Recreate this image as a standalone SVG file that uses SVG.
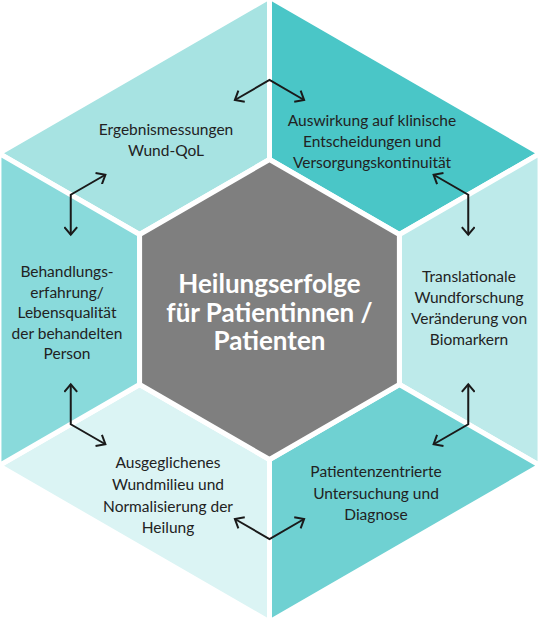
<svg xmlns="http://www.w3.org/2000/svg" width="540" height="618" viewBox="0 0 540 618">
<defs>
<style>
.seg{stroke:#ffffff;stroke-width:5;stroke-linejoin:miter}
.lbl{font-family:Lato,"Liberation Sans",sans-serif;font-size:15.5px;fill:#222222;text-anchor:middle}
.ctr{font-family:Lato,"Liberation Sans",sans-serif;font-size:26px;font-weight:bold;fill:#ffffff;text-anchor:middle}
.arr{fill:none;stroke:#1a1a1a;stroke-width:2;marker-start:url(#ah);marker-end:url(#ah)}
</style>
<marker id="ah" viewBox="0 0 14 14" refX="12" refY="7" markerWidth="14" markerHeight="14" markerUnits="userSpaceOnUse" orient="auto-start-reverse">
<path d="M4.3,0.6 L12,7 L4.3,13.4" fill="none" stroke="#1a1a1a" stroke-width="2"/>
</marker>
</defs>
<rect width="540" height="618" fill="#ffffff"/>
<g id="node-ergebnis">
<polygon class="seg" fill="#a7e3e2" points="-1.05,153.3 269.5,-2.9 269.5,159.5 139.6,234.5"/>
<text class="lbl" x="166" y="135">Ergebnismessungen</text>
<text class="lbl" x="166" y="156">Wund-QoL</text>
</g>
<g id="node-auswirkung">
<polygon class="seg" fill="#4ac6c7" points="269.5,-2.9 540.05,153.3 399.4,234.5 269.5,159.5"/>
<text class="lbl" x="372" y="126">Auswirkung auf klinische</text>
<text class="lbl" x="372" y="147">Entscheidungen und</text>
<text class="lbl" x="372" y="168">Versorgungskontinuität</text>
</g>
<g id="node-translational">
<polygon class="seg" fill="#bdeaea" points="540.05,153.3 540.05,465.7 399.4,384.5 399.4,234.5"/>
<text class="lbl" x="469" y="281.5">Translationale</text>
<text class="lbl" x="469" y="302.5">Wundforschung</text>
<text class="lbl" x="469" y="323.5">Veränderung von</text>
<text class="lbl" x="469" y="344.5">Biomarkern</text>
</g>
<g id="node-patientenzentriert">
<polygon class="seg" fill="#6fd1d2" points="540.05,465.7 269.5,621.9 269.5,459.5 399.4,384.5"/>
<text class="lbl" x="376" y="477">Patientenzentrierte</text>
<text class="lbl" x="376" y="498.5">Untersuchung und</text>
<text class="lbl" x="376" y="519.5">Diagnose</text>
</g>
<g id="node-wundmilieu">
<polygon class="seg" fill="#dbf4f4" points="269.5,621.9 -1.05,465.7 139.6,384.5 269.5,459.5"/>
<text class="lbl" x="168" y="468">Ausgeglichenes</text>
<text class="lbl" x="168" y="490">Wundmilieu und</text>
<text class="lbl" x="168" y="511.5">Normalisierung der</text>
<text class="lbl" x="168" y="533">Heilung</text>
</g>
<g id="node-behandlung">
<polygon class="seg" fill="#89dadb" points="-1.05,465.7 -1.05,153.3 139.6,234.5 139.6,384.5"/>
<text class="lbl" x="67" y="277">Behandlungs-</text>
<text class="lbl" x="67" y="297.5">erfahrung/</text>
<text class="lbl" x="67" y="318">Lebensqualität</text>
<text class="lbl" x="67" y="338.5">der behandelten</text>
<text class="lbl" x="67" y="359">Person</text>
</g>
<g id="node-center">
<polygon class="seg" fill="#7f7f7f" points="269.5,159.5 399.4,234.5 399.4,384.5 269.5,459.5 139.6,384.5 139.6,234.5"/>
<text class="ctr" x="269.5" y="293">Heilungserfolge</text>
<text class="ctr" x="269.5" y="321.5">für Patientinnen /</text>
<text class="ctr" x="269.5" y="350">Patienten</text>
</g>
<g id="connectors">
<polyline class="arr" points="234.9,100 269.5,80 304.1,100"/>
<polyline class="arr" points="433.6,174.75 468.25,194.75 468.25,234.75"/>
<polyline class="arr" points="468.25,384.25 468.25,424.25 433.6,444.25"/>
<polyline class="arr" points="234.9,519 269.5,539 304.1,519"/>
<polyline class="arr" points="70.75,384.25 70.75,424.25 105.4,444.25"/>
<polyline class="arr" points="105.4,174.75 70.75,194.75 70.75,234.75"/>
</g>
</svg>
